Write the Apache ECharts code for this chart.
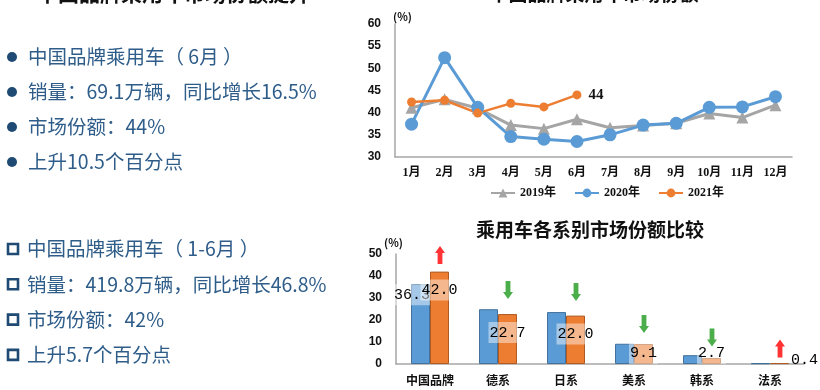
<!DOCTYPE html>
<html><head><meta charset="utf-8">
<script src="https://cdn.jsdelivr.net/npm/echarts@6/dist/echarts.min.js"></script>
<style>html,body{margin:0;padding:0;background:#fff}#c{width:820px;height:390px}</style>
</head><body><div id="c"></div>
<script>
const leftTitle = '中国品牌乘用车市场份额提升';
const lineTitle = '中国品牌乘用车市场份额';
const barTitle = '乘用车各系别市场份额比较';
const monthText = ['中国品牌乘用车（ 6月 ）', '销量：69.1万辆，同比增长16.5%', '市场份额：44%', '上升10.5个百分点'];
const halfText = ['中国品牌乘用车（ 1-6月 ）', '销量：419.8万辆，同比增长46.8%', '市场份额：42%', '上升5.7个百分点'];

const months = ['1月','2月','3月','4月','5月','6月','7月','8月','9月','10月','11月','12月'];
const lineSeriesNames = ['2019年','2020年','2021年'];
const share2019 = [41.1, 43.0, 41.0, 37.2, 36.4, 38.5, 36.6, 37.1, 37.6, 39.8, 38.9, 41.7];
const share2020 = [37.4, 52.4, 41.2, 34.6, 34.0, 33.5, 35.0, 37.2, 37.6, 41.2, 41.3, 43.6];
const share2021 = [42.4, 42.8, 39.9, 42.1, 41.3, 44.0];
const lineYMin = 30, lineYMax = 60, lineYStep = 5;

const barCategories = ['中国品牌','德系','日系','美系','韩系','法系'];
const share2020H1 = [36.3, 24.9, 23.6, 9.2, 4.0, 0.3];
const share2021H1 = [42.0, 22.7, 22.0, 9.1, 2.7, 0.4];
const arrowDirs = ['up','down','down','down','down','up'];
const arrowLevels = [49.5, 33.6, 32.7, 18.2, 12.0, 7.0];
const barYMin = 0, barYMax = 50, barYStep = 10;

const chart = echarts.init(document.getElementById('c'));
const cjk = '"Noto Sans CJK SC", sans-serif';
const serifCjk = '"Liberation Serif", "Noto Sans CJK SC", serif';
const narrow = '"Liberation Sans Narrow", "Liberation Sans", sans-serif';
const mono = '"Liberation Mono", "DejaVu Sans Mono", monospace';

const upArrow = 'path://M5,0 L10,7 L7.4,7 L7.4,18 L2.6,18 L2.6,7 L0,7 Z';
const downArrow = 'path://M2.6,0 L7.4,0 L7.4,11 L10,11 L5,18 L0,11 L2.6,11 Z';

const graphics = [];
graphics.push({type:'text', x:37, y:-17, style:{text:leftTitle, font:'bold 21px ' + cjk, fill:'#111'}});
graphics.push({type:'text', x:594, y:-16, style:{text:lineTitle, font:'bold 19px ' + cjk, fill:'#111', align:'center'}});
graphics.push({type:'text', x:590, y:230, style:{text:barTitle, font:'bold 19px ' + cjk, fill:'#111', align:'center', verticalAlign:'middle'}});
monthText.forEach((t, i) => {
  const y = 57 + i * 35;
  graphics.push({type:'circle', shape:{cx:12, cy:y, r:5}, style:{fill:'#1f4a73'}});
  graphics.push({type:'text', x:28, y:y, style:{text:t, font:'19.5px ' + cjk, fill:'#2f5d8a', verticalAlign:'middle'}});
});
halfText.forEach((t, i) => {
  const y = 249 + i * 35.3;
  graphics.push({type:'rect', shape:{x:8, y:y - 5, width:10, height:10}, style:{fill:'none', stroke:'#1f4a73', lineWidth:2.6}});
  graphics.push({type:'text', x:27, y:y, style:{text:t, font:'19.5px ' + cjk, fill:'#2f5d8a', verticalAlign:'middle'}});
});

const orangeData = share2021H1.map((v, i) => {
  const item = {value: v};
  if (v < 1) item.label = {position:'right', distance:1, offset:[0,-4], backgroundColor:'transparent'};
  else if (v < 10) item.label = {position:'insideBottom', distance:0};
  return item;
});
const blueData = share2020H1.map((v, i) => i === 0 ? {value: v, label: {show: true}} : {value: v});

const option = {
  animation: false,
  graphic: graphics,
  legend: {
    data: lineSeriesNames, left: 485, top: 182, itemGap: 18, itemWidth: 24, itemHeight: 11,
    textStyle: {fontFamily: serifCjk, fontWeight: 'bold', fontSize: 12, color: '#111'}
  },
  grid: [
    {left: 395, right: 28, top: 24, height: 133},
    {left: 396, right: 16, top: 254, height: 110}
  ],
  xAxis: [
    {type:'category', gridIndex:0, data: months, boundaryGap: true,
     axisLine:{lineStyle:{color:'#a6a6a6', width:1.5}}, axisTick:{show:false},
     axisLabel:{fontFamily: serifCjk, fontWeight:'bold', fontSize:12, color:'#111', margin:10}},
    {type:'category', gridIndex:1, data: barCategories,
     axisLine:{lineStyle:{color:'#a6a6a6', width:1.5}}, axisTick:{show:false},
     axisLabel:{fontFamily: cjk, fontWeight:'bold', fontSize:12, color:'#111', margin:10}}
  ],
  yAxis: [
    {type:'value', gridIndex:0, min: lineYMin, max: lineYMax, interval: lineYStep,
     name:'(%)', nameLocation:'end', nameGap:2, nameTextStyle:{fontFamily:cjk, fontWeight:'bold', fontSize:11, color:'#111', align:'left', padding:[0,0,0,-2]},
     axisLine:{show:true, lineStyle:{color:'#a6a6a6', width:1.5}}, axisTick:{show:false}, splitLine:{show:false},
     axisLabel:{fontFamily: narrow, fontWeight:'bold', fontSize:12, color:'#111', margin:14}},
    {type:'value', gridIndex:1, min: barYMin, max: barYMax, interval: barYStep,
     name:'(%)', nameLocation:'end', nameGap:4, nameTextStyle:{fontFamily:cjk, fontWeight:'bold', fontSize:11, color:'#111', align:'left', padding:[0,0,0,-12]},
     axisLine:{show:true, lineStyle:{color:'#a6a6a6', width:1.5}}, axisTick:{show:false}, splitLine:{show:false},
     axisLabel:{fontFamily: narrow, fontWeight:'bold', fontSize:12, color:'#111', margin:14}}
  ],
  series: [
    {name: lineSeriesNames[0], type:'line', xAxisIndex:0, yAxisIndex:0, data: share2019,
     symbol:'triangle', symbolSize:12, lineStyle:{width:3, color:'#a5a5a5'}, itemStyle:{color:'#a5a5a5'}},
    {name: lineSeriesNames[1], type:'line', xAxisIndex:0, yAxisIndex:0, data: share2020,
     symbol:'circle', symbolSize:13, lineStyle:{width:3, color:'#5b9bd5'}, itemStyle:{color:'#5b9bd5'}},
    {name: lineSeriesNames[2], type:'line', xAxisIndex:0, yAxisIndex:0,
     data: share2021.map((v, i) => i === share2021.length - 1 ? {value: v, label: {show: true}} : v),
     symbol:'circle', symbolSize:9, lineStyle:{width:2.5, color:'#ed7d31'}, itemStyle:{color:'#ed7d31'},
     label:{show:false, position:'right', distance:7, formatter: p => Math.round(p.value), fontFamily:'"Liberation Serif", serif', fontWeight:'bold', fontSize:15, color:'#111'}},
    {name:'2020H1', type:'bar', xAxisIndex:1, yAxisIndex:1, data: blueData, barWidth:19, barGap:'0%',
     itemStyle:{color:'#5b9bd5', borderColor:'#41719c', borderWidth:1},
     label:{show:false, position:'insideTopRight', distance:0, formatter: p => p.value.toFixed(1),
       fontFamily: mono, fontSize:15, color:'#000', backgroundColor:'rgba(255,255,255,0.45)', padding:[3,0,3,1]}},
    {name:'2021H1', type:'bar', xAxisIndex:1, yAxisIndex:1, data: orangeData, barWidth:19,
     itemStyle:{color:'#ed7d31', borderColor:'#ae5a21', borderWidth:1},
     label:{show:true, position:'insideTop', distance:8, formatter: p => p.value.toFixed(1),
       fontFamily: mono, fontSize:15, color:'#000', backgroundColor:'rgba(255,255,255,0.45)', padding:[3,1,3,1]}},
    {name:'arrows', type:'scatter', xAxisIndex:1, yAxisIndex:1, z:5,
     data: arrowLevels.map((v, i) => ({
       value: v,
       symbol: arrowDirs[i] === 'up' ? upArrow : downArrow,
       itemStyle: {color: arrowDirs[i] === 'up' ? '#ff0000' : '#1e9a1e'}
     })),
     symbolSize:[10,18], symbolOffset:[10,0], silent:true}
  ]
};
chart.setOption(option);
</script></body></html>
